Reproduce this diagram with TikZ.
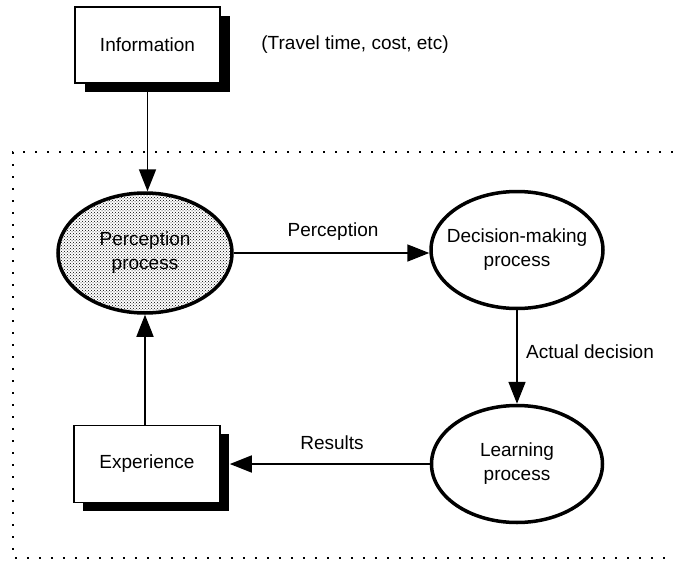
\documentclass[tikz,border=0pt]{standalone}
\usepackage{fontspec}
\setmainfont{Liberation Sans}
\usetikzlibrary{arrows.meta,shapes.geometric,patterns,shadows}
\begin{document}
\begin{tikzpicture}[x=1pt,y=-1pt,
  every node/.style={font=\fontsize{19}{24}\selectfont},
  box/.style={draw, line width=1.6pt, fill=white, inner sep=0pt},
  proc/.style={draw, ellipse, line width=3.5pt, inner sep=0pt,
    label={[align=center, inner sep=0pt, font=\fontsize{19}{24}\selectfont]center:#1}},
  conn/.style={line width=1.8pt, -{Triangle[length=22pt,width=17pt]}},
  lbl/.style={inner sep=0pt},
  frame/.style={line width=2.4pt, dash pattern=on 2.4pt off 9.6pt}]
\useasboundingbox (0,0) rectangle (673,565);

% dotted frame
\coordinate (ftr) at (673,152);
\coordinate (ftl) at (13,152);
\coordinate (fbl) at (13,558);
\coordinate (fbr) at (673,558);
\draw[frame] (ftr) -- (ftl) -- (fbl) -- (fbr);

% boxes
\node[box, minimum width=145pt, minimum height=76pt,
  general shadow={fill=black, shadow xshift=10pt, shadow yshift=-9pt}]
  (info) at (147.5,45) {Information};
\node[lbl] (travel) at (355,45) {(Travel time, cost, etc)};
\node[box, minimum width=146pt, minimum height=77pt,
  general shadow={fill=black, shadow xshift=9pt, shadow yshift=-8pt}]
  (exp) at (147,464) {Experience};

% processes
\node[proc={Perception\\process}, pattern=crosshatch dots, minimum width=174pt, minimum height=120pt]
  (perc) at (145,253) {};
\node[proc={Decision-making\\process}, fill=white, minimum width=172pt, minimum height=117pt]
  (dec) at (517,250) {};
\node[proc={Learning\\process}, fill=white, minimum width=171pt, minimum height=117pt]
  (learn) at (517,464) {};

% connectors
\draw[conn] (info.south) -- (info.south |- perc.north);
\draw[conn] (perc.east) -- (perc.east -| dec.west);
\draw[conn] (dec.south) -- (learn.north);
\draw[conn] (learn.west) -- ([xshift=9pt]exp.east);
\draw[conn] (exp.north -| perc.south) -- (perc.south);

% labels
\node[lbl] (lperc) at (333,232) {Perception};
\node[lbl] (lact) at (590,352) {Actual decision};
\node[lbl] (lres) at (332,443) {Results};
\end{tikzpicture}
\end{document}
